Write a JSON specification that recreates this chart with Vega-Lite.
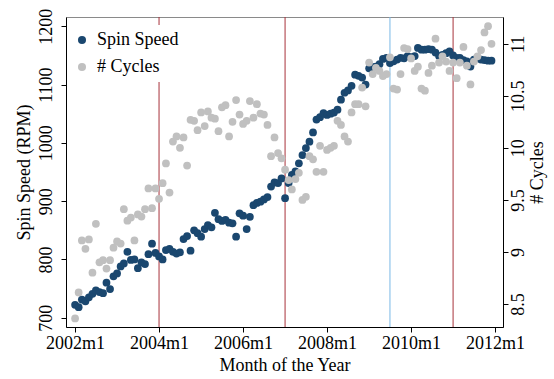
{
  "$schema": "https://vega.github.io/schema/vega-lite/v6.json",
  "width": 437,
  "height": 310,
  "autosize": "none",
  "padding": {"left": 66, "top": 17, "right": 51, "bottom": 52},
  "config": {
    "font": "Liberation Serif",
    "view": {"stroke": "#8a8a8a", "strokeWidth": 1},
    "axis": {
      "grid": false,
      "domainColor": "black",
      "tickColor": "black",
      "tickSize": 5,
      "labelColor": "black",
      "titleColor": "black",
      "labelFont": "Liberation Serif",
      "titleFont": "Liberation Serif",
      "labelFontSize": 18,
      "titleFontSize": 18,
      "titleFontWeight": "normal"
    },
    "legend": {"labelFont": "Liberation Serif"}
  },
  "data": {
    "values": [
      {"date":"2002-01-01","spin":722,"cycles":8.36},{"date":"2002-02-01","spin":718,"cycles":8.61},{"date":"2002-03-01","spin":731,"cycles":9.11},{"date":"2002-04-01","spin":728,"cycles":9.03},{"date":"2002-05-01","spin":735,"cycles":9.12},{"date":"2002-06-01","spin":741,"cycles":8.80},{"date":"2002-07-01","spin":747,"cycles":9.27},{"date":"2002-08-01","spin":744,"cycles":8.90},{"date":"2002-09-01","spin":742,"cycles":8.92},{"date":"2002-10-01","spin":760,"cycles":8.84},{"date":"2002-11-01","spin":749,"cycles":8.92},{"date":"2002-12-01","spin":771,"cycles":9.04},
      {"date":"2003-01-01","spin":776,"cycles":9.10},{"date":"2003-02-01","spin":788,"cycles":9.08},{"date":"2003-03-01","spin":793,"cycles":9.41},{"date":"2003-04-01","spin":813,"cycles":9.30},{"date":"2003-05-01","spin":799,"cycles":9.33},{"date":"2003-06-01","spin":800,"cycles":9.11},{"date":"2003-07-01","spin":785,"cycles":9.36},{"date":"2003-08-01","spin":795,"cycles":9.34},{"date":"2003-09-01","spin":792,"cycles":9.41},{"date":"2003-10-01","spin":809,"cycles":9.61},{"date":"2003-11-01","spin":827,"cycles":9.42},{"date":"2003-12-01","spin":811,"cycles":9.61},
      {"date":"2004-01-01","spin":805,"cycles":9.51},{"date":"2004-02-01","spin":800,"cycles":9.66},{"date":"2004-03-01","spin":816,"cycles":9.85},{"date":"2004-04-01","spin":818,"cycles":9.57},{"date":"2004-05-01","spin":813,"cycles":10.06},{"date":"2004-06-01","spin":810,"cycles":10.11},{"date":"2004-07-01","spin":812,"cycles":10.00},{"date":"2004-08-01","spin":835,"cycles":10.10},{"date":"2004-09-01","spin":840,"cycles":9.83},{"date":"2004-10-01","spin":815,"cycles":10.27},{"date":"2004-11-01","spin":850,"cycles":10.26},{"date":"2004-12-01","spin":845,"cycles":10.17},
      {"date":"2005-01-01","spin":839,"cycles":10.34},{"date":"2005-02-01","spin":852,"cycles":10.21},{"date":"2005-03-01","spin":859,"cycles":10.35},{"date":"2005-04-01","spin":855,"cycles":10.29},{"date":"2005-05-01","spin":880,"cycles":10.28},{"date":"2005-06-01","spin":869,"cycles":10.16},{"date":"2005-07-01","spin":866,"cycles":10.39},{"date":"2005-08-01","spin":868,"cycles":10.41},{"date":"2005-09-01","spin":863,"cycles":10.11},{"date":"2005-10-01","spin":862,"cycles":10.25},{"date":"2005-11-01","spin":839,"cycles":10.46},{"date":"2005-12-01","spin":879,"cycles":10.32},
      {"date":"2006-01-01","spin":875,"cycles":10.23},{"date":"2006-02-01","spin":852,"cycles":10.26},{"date":"2006-03-01","spin":873,"cycles":10.45},{"date":"2006-04-01","spin":893,"cycles":10.29},{"date":"2006-05-01","spin":897,"cycles":10.42},{"date":"2006-06-01","spin":899,"cycles":10.33},{"date":"2006-07-01","spin":903,"cycles":10.32},{"date":"2006-08-01","spin":907,"cycles":10.22},{"date":"2006-09-01","spin":925,"cycles":9.92},{"date":"2006-10-01","spin":932,"cycles":10.10},{"date":"2006-11-01","spin":931,"cycles":9.95},{"date":"2006-12-01","spin":939,"cycles":9.90},
      {"date":"2007-01-01","spin":905,"cycles":9.79},{"date":"2007-02-01","spin":931,"cycles":9.69},{"date":"2007-03-01","spin":945,"cycles":9.60},{"date":"2007-04-01","spin":951,"cycles":9.70},{"date":"2007-05-01","spin":965,"cycles":9.76},{"date":"2007-06-01","spin":979,"cycles":9.50},{"date":"2007-07-01","spin":991,"cycles":9.53},{"date":"2007-08-01","spin":1002,"cycles":9.92},{"date":"2007-09-01","spin":1018,"cycles":9.89},{"date":"2007-10-01","spin":1040,"cycles":9.77},{"date":"2007-11-01","spin":1044,"cycles":10.02},{"date":"2007-12-01","spin":1051,"cycles":9.77},
      {"date":"2008-01-01","spin":1048,"cycles":9.98},{"date":"2008-02-01","spin":1050,"cycles":10.00},{"date":"2008-03-01","spin":1052,"cycles":10.02},{"date":"2008-04-01","spin":1057,"cycles":10.26},{"date":"2008-05-01","spin":1074,"cycles":10.22},{"date":"2008-06-01","spin":1086,"cycles":10.11},{"date":"2008-07-01","spin":1090,"cycles":10.06},{"date":"2008-08-01","spin":1098,"cycles":10.34},{"date":"2008-09-01","spin":1117,"cycles":10.42},{"date":"2008-10-01","spin":1115,"cycles":10.42},{"date":"2008-11-01","spin":1112,"cycles":10.58},{"date":"2008-12-01","spin":1100,"cycles":10.40},
      {"date":"2009-01-01","spin":1128,"cycles":10.82},{"date":"2009-02-01","spin":1130,"cycles":10.71},{"date":"2009-03-01","spin":1131,"cycles":10.77},{"date":"2009-04-01","spin":1135,"cycles":10.74},{"date":"2009-05-01","spin":1144,"cycles":10.69},{"date":"2009-06-01","spin":1146,"cycles":10.71},{"date":"2009-07-01","spin":1137,"cycles":10.87},{"date":"2009-08-01","spin":1140,"cycles":10.57},{"date":"2009-09-01","spin":1143,"cycles":10.56},{"date":"2009-10-01","spin":1146,"cycles":10.71},{"date":"2009-11-01","spin":1145,"cycles":10.96},{"date":"2009-12-01","spin":1149,"cycles":10.95},
      {"date":"2010-01-01","spin":1147,"cycles":10.86},{"date":"2010-02-01","spin":1149,"cycles":10.74},{"date":"2010-03-01","spin":1163,"cycles":10.78},{"date":"2010-04-01","spin":1160,"cycles":10.57},{"date":"2010-05-01","spin":1160,"cycles":10.55},{"date":"2010-06-01","spin":1161,"cycles":10.72},{"date":"2010-07-01","spin":1160,"cycles":10.79},{"date":"2010-08-01","spin":1155,"cycles":11.05},{"date":"2010-09-01","spin":1149,"cycles":10.82},{"date":"2010-10-01","spin":1151,"cycles":10.88},{"date":"2010-11-01","spin":1154,"cycles":10.83},{"date":"2010-12-01","spin":1157,"cycles":10.74},
      {"date":"2011-01-01","spin":1150,"cycles":10.82},{"date":"2011-02-01","spin":1146,"cycles":10.67},{"date":"2011-03-01","spin":1146,"cycles":10.82},{"date":"2011-04-01","spin":1142,"cycles":10.97},{"date":"2011-05-01","spin":1140,"cycles":10.79},{"date":"2011-06-01","spin":1131,"cycles":10.61},{"date":"2011-07-01","spin":1143,"cycles":10.83},{"date":"2011-08-01","spin":1145,"cycles":10.88},{"date":"2011-09-01","spin":1143,"cycles":10.94},{"date":"2011-10-01","spin":1142,"cycles":11.11},{"date":"2011-11-01","spin":1141,"cycles":11.17},{"date":"2011-12-01","spin":1141,"cycles":11.00}
    ]
  },
  "encoding": {
    "x": {
      "field": "date",
      "type": "temporal",
      "scale": {
        "type": "utc",
        "domain": [
          {"year": 2001, "month": 10, "date": 14, "utc": true},
          {"year": 2012, "month": 3, "date": 10, "utc": true}
        ]
      },
      "axis": {
        "title": "Month of the Year",
        "values": [
          {"year": 2002, "month": 1, "date": 1, "utc": true},
          {"year": 2004, "month": 1, "date": 1, "utc": true},
          {"year": 2006, "month": 1, "date": 1, "utc": true},
          {"year": 2008, "month": 1, "date": 1, "utc": true},
          {"year": 2010, "month": 1, "date": 1, "utc": true},
          {"year": 2012, "month": 1, "date": 1, "utc": true}
        ],
        "labelExpr": "utcFormat(datum.value, '%Y') + 'm1'",
        "labelPadding": 2,
        "titlePadding": 4,
        "labelFlush": false
      }
    }
  },
  "layer": [
    {
      "data": {"values": [{"date": "2004-01-01"}, {"date": "2007-01-01"}, {"date": "2011-01-01"}]},
      "mark": {"type": "rule", "color": "#a8323b", "strokeWidth": 1},
      "encoding": {}
    },
    {
      "data": {"values": [{"date": "2009-07-01"}]},
      "mark": {"type": "rule", "color": "#7ab8e6", "strokeWidth": 1},
      "encoding": {}
    },
    {
      "mark": {"type": "circle", "size": 60, "opacity": 1},
      "encoding": {
        "y": {
          "field": "spin",
          "type": "quantitative",
          "scale": {"domain": [684, 1216], "zero": false, "nice": false},
          "axis": {
            "title": "Spin Speed (RPM)",
            "orient": "left",
            "values": [700, 800, 900, 1000, 1100, 1200],
            "format": "d",
            "labelAngle": -90,
            "labelPadding": 6,
            "titlePadding": 4
          }
        },
        "color": {
          "datum": "Spin Speed",
          "type": "nominal",
          "scale": {"domain": ["Spin Speed", "# Cycles"], "range": ["#1a476f", "#c0c0c0"]},
          "legend": {
            "title": null,
            "orient": "none",
            "legendX": 1,
            "legendY": 8,
            "fillColor": "white",
            "padding": 6,
            "symbolType": "circle",
            "symbolSize": 65,
            "symbolStrokeWidth": 0,
            "labelFont": "Liberation Serif",
            "labelFontSize": 18,
            "labelColor": "black",
            "labelOffset": 6,
            "rowPadding": 9
          }
        }
      }
    },
    {
      "mark": {"type": "circle", "size": 60, "opacity": 1},
      "encoding": {
        "y": {
          "field": "cycles",
          "type": "quantitative",
          "scale": {"domain": [8.278, 11.258], "zero": false, "nice": false},
          "axis": {
            "title": "# Cycles",
            "orient": "right",
            "values": [8.5, 9, 9.5, 10, 10.5, 11],
            "format": "~g",
            "labelAngle": -90,
            "titleAngle": -90,
            "titleBaseline": "top",
            "labelPadding": 1,
            "titlePadding": 1
          }
        },
        "color": {"datum": "# Cycles", "type": "nominal"}
      }
    }
  ],
  "resolve": {"scale": {"y": "independent"}}
}
